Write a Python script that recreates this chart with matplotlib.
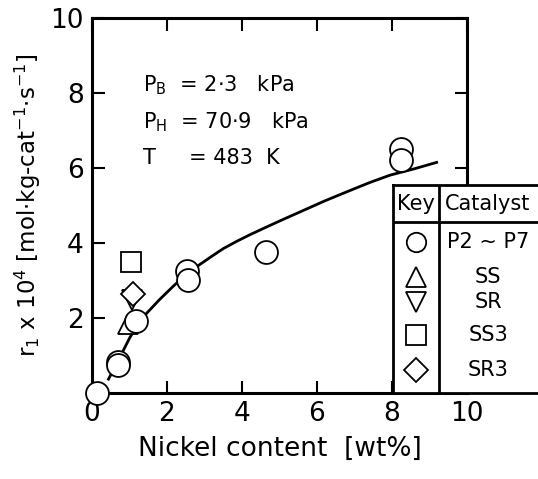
import matplotlib
matplotlib.use("Agg")
import matplotlib.pyplot as plt

p_x = [0.13, 0.68, 0.70, 1.16, 2.52, 2.56, 4.64, 8.23, 8.25]
p_y = [0.0, 0.83, 0.75, 1.93, 3.26, 3.01, 3.75, 6.51, 6.22]
ss_x, ss_y = [0.97], [1.85]
sr_x, sr_y = [1.06], [2.48]
ss3_x, ss3_y = [1.03], [3.50]
sr3_x, sr3_y = [1.10], [2.65]

# Correlation curve
curve_x = [0.44, 0.68, 1.01, 1.25, 1.46, 1.81, 2.17, 2.52, 2.88, 3.20, 3.50, 3.85,
           4.21, 4.64, 5.10, 5.55, 6.20, 6.88, 7.40, 7.95, 8.60, 9.19]
curve_y = [0.37, 0.83, 1.48, 1.86, 2.13, 2.50, 2.85, 3.17, 3.43, 3.65, 3.85, 4.04,
           4.22, 4.42, 4.63, 4.83, 5.12, 5.40, 5.61, 5.81, 5.98, 6.15]

key_labels = ["P2 ~ P7", "SS", "SR", "SS3", "SR3"]
key_markers = ["o", "^", "v", "s", "D"]

W, H = 538, 479
fig = plt.figure(figsize=(W / 100, H / 100), dpi=100)
ax = fig.add_axes([92 / W, (H - 393) / H, 375 / W, 375 / H])

ax.plot(curve_x, curve_y, color="black", lw=2.0, zorder=2)
mk = dict(mfc="white", mec="black", mew=1.3, ls="none", clip_on=False, zorder=3)
ax.plot(ss_x, ss_y, marker="^", ms=14, **mk)
ax.plot(sr_x, sr_y, marker="v", ms=14, **mk)
ax.plot(sr3_x, sr3_y, marker="D", ms=12, **mk)
ax.plot(ss3_x, ss3_y, marker="s", ms=14, **mk)
ax.plot(p_x, p_y, marker="o", ms=16.5, **mk)

ax.set_xlim(0, 10)
ax.set_ylim(0, 10)
ax.set_xticks([0, 2, 4, 6, 8, 10])
ax.set_yticks([0, 2, 4, 6, 8, 10])
ax.set_yticklabels(["", "2", "4", "6", "8", "10"])
ax.tick_params(direction="in", length=9, width=1.5, top=True, right=True,
               labelsize=19, pad=6)
for s in ax.spines.values():
    s.set_linewidth(2.2)

ax.set_xlabel("Nickel content  [wt%]", fontsize=19, labelpad=6)
ax.set_ylabel(r"r$_1$ x 10$^4$ [mol$\cdot$kg-cat$^{-1}$$\cdot$s$^{-1}$]", fontsize=16.5, labelpad=5)

ax.text(1.35, 8.05, r"P$_\mathregular{B}$  = 2$\cdot$3   kPa", fontsize=15)
ax.text(1.35, 7.05, r"P$_\mathregular{H}$  = 70$\cdot$9   kPa", fontsize=15)
ax.text(1.35, 6.1, "T     = 483  K", fontsize=15)

# key table
kx = fig.add_axes([393 / W, (H - 393) / H, (W - 393) / W, 208 / H])
kx.set_xlim(0, W - 393)
kx.set_ylim(208, 0)
kx.set_xticks([])
kx.set_yticks([])
kx.set_facecolor("white")
kx.spines["right"].set_visible(False)
for s in ["left", "top", "bottom"]:
    kx.spines[s].set_linewidth(2.0)
kx.axvline(46, color="black", lw=2.0)
kx.axhline(37, color="black", lw=2.0)
kx.text(23, 19, "Key", ha="center", va="center", fontsize=15)
kx.text(95, 19, "Catalyst", ha="center", va="center", fontsize=15)
rows_y = [57, 92, 117, 150, 185]
for m, lab, yy in zip(key_markers, key_labels, rows_y):
    kx.plot([23], [yy], marker=m, ms=14 if m != "D" else 12, mfc="white", mec="black", mew=1.3)
    kx.text(95, yy, lab, ha="center", va="center", fontsize=15)

fig.savefig("out.png", dpi=100)
